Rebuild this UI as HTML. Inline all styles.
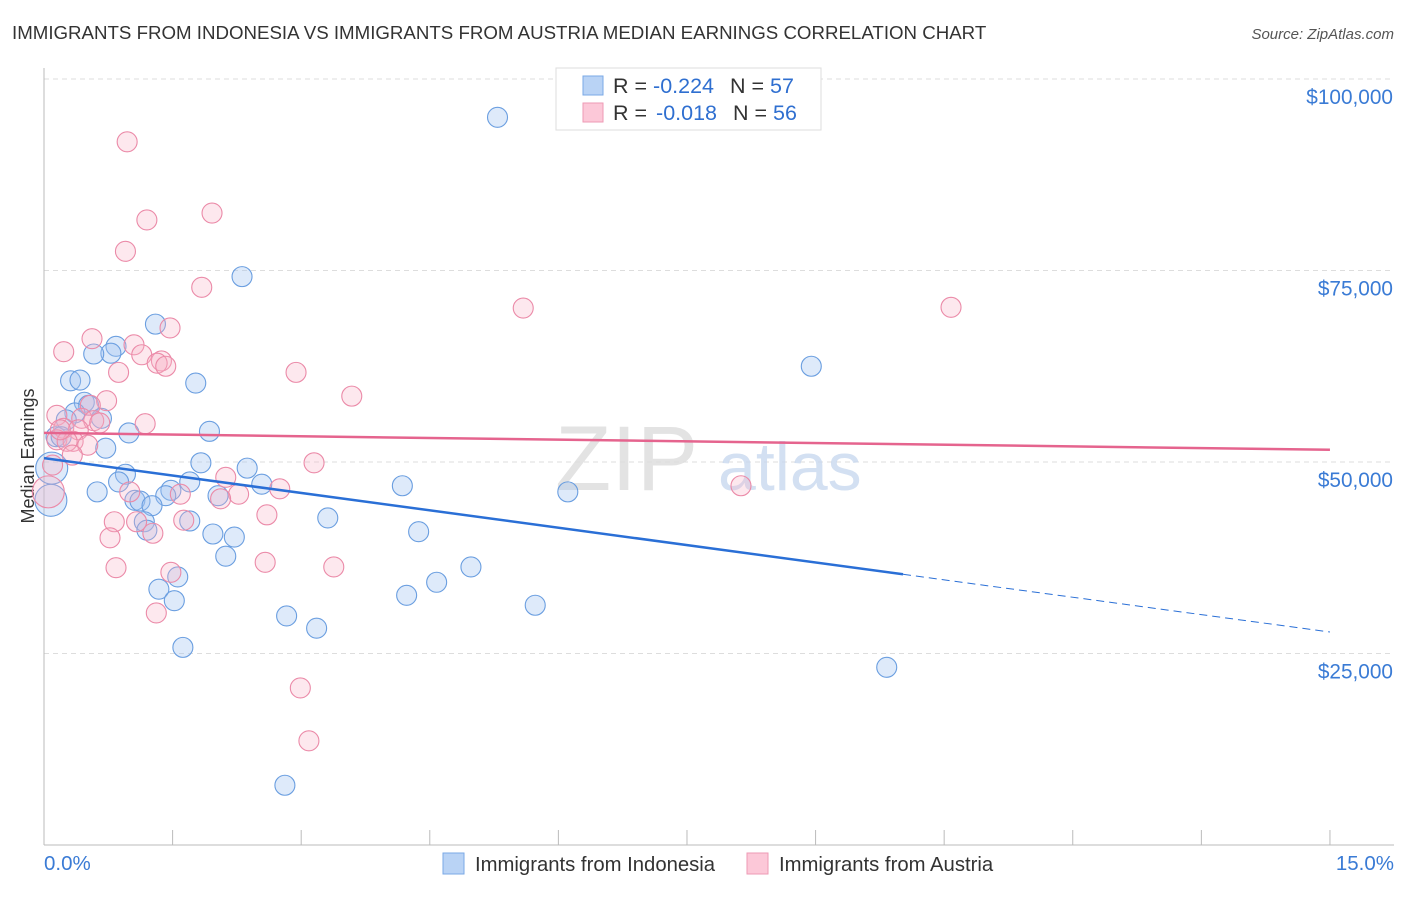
<!DOCTYPE html>
<html><head><meta charset="utf-8"><style>
body{margin:0;background:#fff;font-family:"Liberation Sans",sans-serif}
svg text{font-family:"Liberation Sans",sans-serif}
</style></head><body>
<svg id="c" width="1406" height="892" xmlns="http://www.w3.org/2000/svg">
<text x="12" y="39" font-size="18.7" fill="#333">IMMIGRANTS FROM INDONESIA VS IMMIGRANTS FROM AUSTRIA MEDIAN EARNINGS CORRELATION CHART</text>
<text x="1394" y="39" font-size="15" fill="#555" text-anchor="end" font-style="italic">Source: ZipAtlas.com</text>
<text transform="translate(34,456) rotate(-90)" font-size="18" fill="#333" text-anchor="middle">Median Earnings</text>
<g id="grid"></g>
<text x="555" y="490" font-size="92" fill="#ddd" font-family="Liberation Serif" opacity="0.8">ZIP</text>
<text x="718" y="490" font-size="68" fill="#c9d9ef" opacity="0.8">atlas</text>
<g id="pts"></g>
<g id="lines"></g>
<g>
<rect x="556" y="68" width="265" height="62" fill="#fff" stroke="#ddd"/>
<rect x="583" y="76" width="20" height="19" fill="#b9d3f5" stroke="#7aa8e6"/>
<rect x="583" y="103" width="20" height="19" fill="#fcc8d8" stroke="#ee9ab4"/>
<text x="613" y="93" font-size="21.5" fill="#333">R = <tspan fill="#2f6fd0">-0.224</tspan><tspan dx="16">N = </tspan><tspan fill="#2f6fd0">57</tspan></text>
<text x="613" y="120" font-size="21.5" fill="#333">R = <tspan fill="#2f6fd0" dx="3">-0.018</tspan><tspan dx="16">N = </tspan><tspan fill="#2f6fd0">56</tspan></text>
</g>
<text x="44" y="870" font-size="20.5" fill="#3a7bd5">0.0%</text>
<text x="1394" y="870" font-size="20.5" fill="#3a7bd5" text-anchor="end">15.0%</text>
<g><rect x="443" y="853" width="21" height="21" fill="#b9d3f5" stroke="#7aa8e6"/><text x="475" y="871" font-size="20.3" fill="#333">Immigrants from Indonesia</text></g>
<g><rect x="747" y="853" width="21" height="21" fill="#fcc8d8" stroke="#ee9ab4"/><text x="779" y="871" font-size="20.3" fill="#333">Immigrants from Austria</text></g>
</svg>
<script>
const yTicks=[25000,50000,75000,100000];
const yTickLabels=["$25,000","$50,000","$75,000","$100,000"];
const blueX=[5.29,2.31,1.30,0.84,0.78,0.58,8.95,0.31,0.42,1.77,0.47,0.52,0.36,0.67,0.26,0.99,1.93,0.14,0.20,0.72,0.09,1.83,2.37,0.95,0.87,1.70,2.54,4.18,6.11,0.62,1.48,1.42,2.03,1.06,1.12,1.26,0.08,3.31,1.70,1.17,1.20,4.37,1.97,2.22,2.12,4.98,1.56,4.58,1.34,4.23,1.52,5.73,2.83,3.18,1.62,9.83,2.81];
const blueY=[95.0,74.2,68.0,65.1,64.2,64.1,62.5,60.6,60.7,60.3,57.8,57.4,56.4,55.7,55.5,53.8,54.0,53.3,53.3,51.8,49.2,49.9,49.2,48.4,47.4,47.4,47.1,46.9,46.1,46.1,46.3,45.6,45.6,45.0,44.9,44.3,45.0,42.7,42.3,42.2,41.1,40.9,40.6,40.2,37.7,36.3,35.0,34.3,33.4,32.6,31.9,31.3,29.9,28.3,25.8,23.2,7.8];
const pinkX=[0.97,1.20,1.96,0.95,1.84,5.59,10.58,1.47,0.56,0.23,1.05,1.14,1.37,1.32,1.42,0.87,2.94,3.59,0.73,0.54,0.15,0.44,0.58,0.65,1.18,0.23,0.40,0.15,0.34,0.27,0.51,0.33,0.10,3.15,2.12,8.13,2.75,1.00,1.59,2.27,2.06,0.05,2.60,0.82,1.63,1.08,1.27,0.77,2.58,3.38,0.84,1.48,1.31,2.99,3.09,0.19];
const pinkY=[91.8,81.6,82.5,77.5,72.8,70.1,70.2,67.5,66.1,64.4,65.3,64.0,63.2,62.9,62.5,61.7,61.7,58.6,58.0,57.4,56.1,55.7,55.4,55.1,55.0,54.4,54.2,52.9,52.7,52.7,52.2,50.9,49.6,49.9,48.0,46.9,46.5,46.1,45.8,45.8,45.2,46.1,43.1,42.2,42.4,42.2,40.7,40.1,36.9,36.3,36.2,35.6,30.3,20.5,13.6,54.2];
const blueTrend=[50.5,-1.513];
const pinkTrend=[53.8,-0.147];
const NS="http://www.w3.org/2000/svg";
const xs=p=>44+p*85.73;
const ys=k=>845-k*7.66;
function mk(t,a,parent){const e=document.createElementNS(NS,t);for(const k in a)e.setAttribute(k,a[k]);parent.appendChild(e);return e;}
const grid=document.getElementById('grid');
yTicks.forEach((v,i)=>{const y=ys(v/1000);
const l=mk('line',{x1:44,x2:1394,y1:y,y2:y,stroke:'#ddd','stroke-dasharray':'5,4'},grid);


const t=mk('text',{x:1393,y:y+25,'font-size':20.8,fill:'#3a7bd5','text-anchor':'end'},grid);
t.textContent=yTickLabels[i];

});
const ax=mk('line',{x1:44,x2:44,y1:68,y2:845,stroke:'#bbb'},grid);


const xa=mk('line',{x1:44,x2:1394,y1:845,y2:845,stroke:'#bbb'},grid);


for(let i=1;i<=10;i++){const x=xs(i*1.5);const tk=mk('line',{x1:x,x2:x,y1:830,y2:845,stroke:'#bbb'},grid);

}
const pts=document.getElementById('pts');
function big(x){return x<0.1?16:10;}
blueX.forEach((x,i)=>{const c=mk('circle',{cx:xs(x),cy:ys(blueY[i]),r:big(x),fill:'rgba(160,196,240,0.35)',stroke:'#6a9ee0','stroke-width':1.1},pts);

});
pinkX.forEach((x,i)=>{const c=mk('circle',{cx:xs(x),cy:ys(pinkY[i]),r:big(x),fill:'rgba(248,180,200,0.3)',stroke:'#eb8aa8','stroke-width':1.1},pts);

});
const L=document.getElementById('lines');
const f=(t,p)=>t[0]+t[1]*p;
const b1=mk('line',{x1:xs(0),y1:ys(f(blueTrend,0)),x2:xs(10.02),y2:ys(f(blueTrend,10.02)),stroke:'#2a6fd6','stroke-width':2.5},L);


const b2=mk('line',{x1:xs(10.02),y1:ys(f(blueTrend,10.02)),x2:xs(15),y2:ys(f(blueTrend,15)),stroke:'#2a6fd6','stroke-width':1,'stroke-dasharray':'8,5'},L);


const p1=mk('line',{x1:xs(0),y1:ys(f(pinkTrend,0)),x2:xs(15),y2:ys(f(pinkTrend,15)),stroke:'#e5648e','stroke-width':2.5},L);


</script>
</body></html>
